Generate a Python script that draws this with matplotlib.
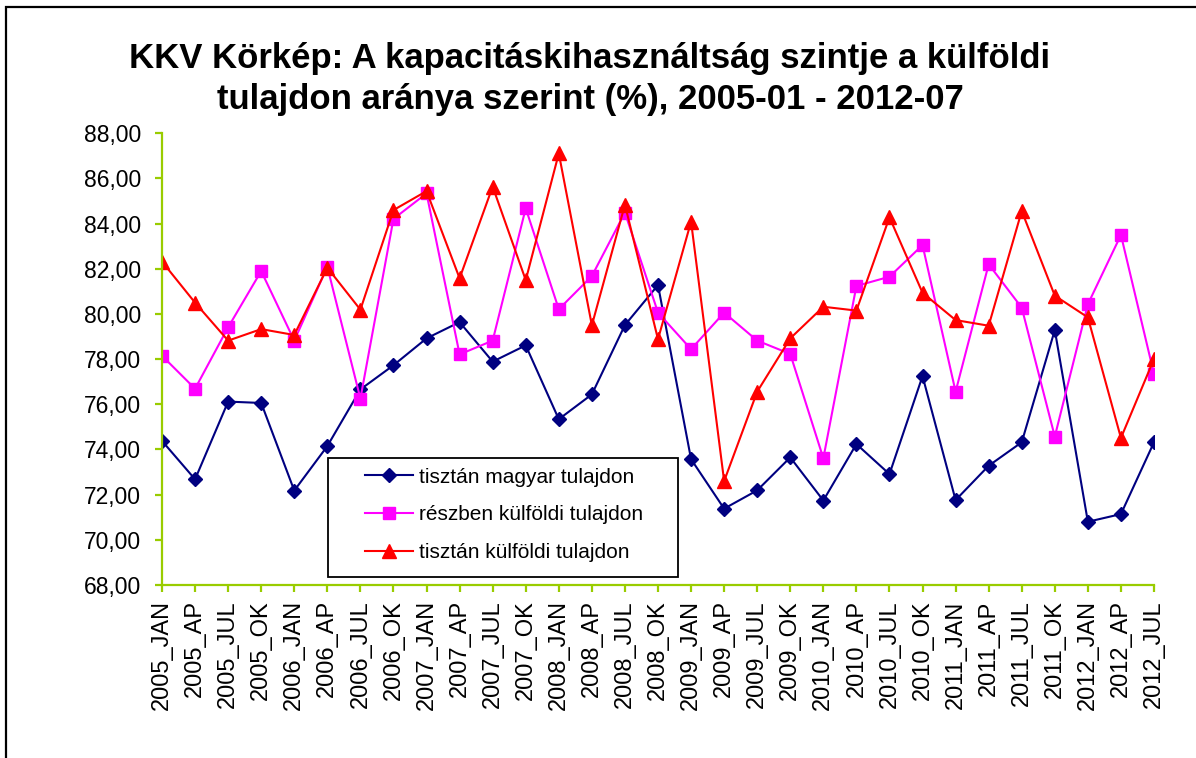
#!/usr/bin/env python

'''KKV Korkep - kapacitaskihasznaltsag a kulfoldi tulajdon aranya szerint'''

import matplotlib
matplotlib.use('Agg')
from matplotlib.pyplot import figure
from matplotlib.patches import Rectangle
from matplotlib.ticker import FuncFormatter
import numpy as np

years = ['2005', '2006', '2007', '2008', '2009', '2010', '2011', '2012']
quarters = ['JAN', 'AP', 'JUL', 'OK']
periods = [f'{y}_{q}' for y in years for q in quarters][:31]

magyar = [74.38, 72.68, 76.12, 76.06, 72.18, 74.15, 76.66, 77.73, 78.92, 79.64,
          77.89, 78.61, 75.34, 76.44, 79.51, 81.28, 73.57, 71.38, 72.19, 73.65,
          71.74, 74.24, 72.91, 77.25, 71.76, 73.28, 74.32, 79.29, 70.80, 71.14,
          74.32]
reszben = [78.15, 76.69, 79.41, 81.90, 78.82, 82.09, 76.25, 84.21, 85.34, 78.21,
           78.82, 84.68, 80.21, 81.68, 84.49, 80.06, 78.44, 80.06, 78.82, 78.23,
           73.61, 81.24, 81.65, 83.05, 76.56, 82.20, 80.28, 74.57, 80.43, 83.50,
           77.34]
kulfoldi = [82.32, 80.50, 78.82, 79.33, 79.07, 82.05, 80.19, 84.60, 85.44, 81.58,
            85.64, 81.50, 87.11, 79.50, 84.84, 78.88, 84.09, 72.60, 76.56, 78.92,
            80.32, 80.15, 84.28, 80.94, 79.73, 79.48, 84.56, 80.81, 79.85, 74.51,
            78.01]

labels = ['tisztán magyar tulajdon', 'részben külföldi tulajdon', 'tisztán külföldi tulajdon']
title = 'KKV Körkép: A kapacitáskihasználtság szintje a külföldi\ntulajdon aránya szerint (%), 2005-01 - 2012-07'

W, H = 1196, 758

if __name__ == '__main__':
    matplotlib.rcParams['font.family'] = ['Liberation Sans', 'DejaVu Sans']
    fig = figure(figsize=(W / 100, H / 100), dpi=100)
    ax = fig.add_axes([162 / W, 1 - 585 / H, (1154 - 162) / W, (585 - 133.3) / H])

    x = np.arange(len(periods))
    h1, = ax.plot(x, magyar, color='#000080', lw=1.5, marker='D', ms=7.4, label=labels[0])
    h2, = ax.plot(x, reszben, color='#FF00FF', lw=1.5, marker='s', ms=9.2, label=labels[1])
    h3, = ax.plot(x, kulfoldi, color='#FF0000', lw=1.5, marker='^', ms=9.6, label=labels[2])

    ax.set_xlim(0, len(periods) - 1)
    ax.set_ylim(68, 88)
    ax.set_yticks(np.arange(68, 88.1, 2))
    ax.yaxis.set_major_formatter(FuncFormatter(lambda v, p: f'{v:.2f}'.replace('.', ',')))
    ax.set_xticks(x)
    ax.set_xticklabels(periods, rotation=90)

    for s in ['top', 'right']:
        ax.spines[s].set_visible(False)
    for s in ['left', 'bottom']:
        ax.spines[s].set_color('#99CC00')
        ax.spines[s].set_linewidth(1.6)
    ax.tick_params(axis='both', colors='#99CC00', length=5, width=1.6, direction='out',
                   labelcolor='black', labelsize=16.5)
    ax.tick_params(axis='y', pad=10)
    ax.tick_params(axis='x', pad=6, labelsize=17)

    fig.text(590 / W, 1 - 79 / H, title, ha='center', va='center', fontsize=25,
             fontweight='bold', linespacing=1.3)

    leg = fig.legend(handles=[h1, h2, h3], loc='center left',
                     bbox_to_anchor=(365 / W, 1 - 515 / H), frameon=False,
                     fontsize=15, handlelength=2.3, handletextpad=0.3,
                     labelspacing=0.9, borderpad=0, borderaxespad=0)
    fig.add_artist(Rectangle((328 / W, 1 - 577 / H), 350 / W, 119 / H,
                             transform=fig.transFigure, fill=False,
                             edgecolor='black', lw=1.3))
    fig.add_artist(Rectangle((6 / W, -0.1), 1.2, 1.1 - 7 / H,
                             transform=fig.transFigure, fill=False,
                             edgecolor='black', lw=1.6, clip_on=False))

    fig.savefig('out.png', dpi=100)
